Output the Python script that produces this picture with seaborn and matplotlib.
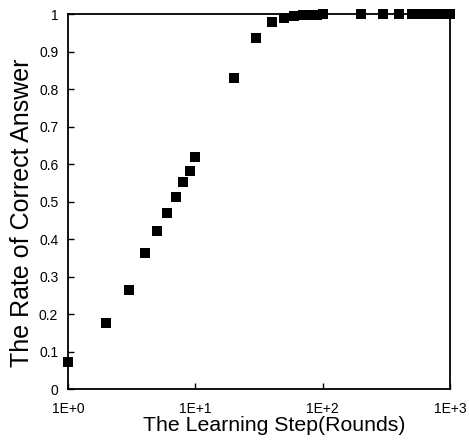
import matplotlib
matplotlib.use("Agg")
import matplotlib.pyplot as plt
import seaborn as sns
import pandas as pd

steps = [1, 2, 3, 4, 5, 6, 7, 8, 9, 10, 20, 30, 40, 50, 60, 70, 80, 90, 100,
         200, 300, 400, 500, 600, 700, 800, 900, 1000]
rate = [0.072, 0.177, 0.265, 0.362, 0.423, 0.469, 0.513, 0.552, 0.583, 0.618,
        0.831, 0.937, 0.980, 0.991, 0.995, 0.997, 0.998, 0.999, 1.0,
        1.0, 1.0, 1.0, 1.0, 1.0, 1.0, 1.0, 1.0, 1.0]
x_ticks = [1, 10, 100, 1000]
x_tick_labels = ["1E+0", "1E+1", "1E+2", "1E+3"]
y_ticks = [0, 0.1, 0.2, 0.3, 0.4, 0.5, 0.6, 0.7, 0.8, 0.9, 1]
y_tick_labels = ["0", "0.1", "0.2", "0.3", "0.4", "0.5", "0.6", "0.7", "0.8", "0.9", "1"]

sns.set_style("ticks")
plt.rcParams['font.family'] = ['Liberation Sans', 'DejaVu Sans']
plt.rcParams['text.color'] = 'black'
plt.rcParams['axes.labelcolor'] = 'black'

df = pd.DataFrame({"step": steps, "rate": rate})

fig = plt.figure(figsize=(4.69, 4.45), dpi=100)
ax = fig.add_axes([0.145, 0.1254, 0.8145, 0.8426])
sns.scatterplot(data=df, x="step", y="rate", marker="s", color="black",
                s=42, edgecolor="black", linewidth=0, ax=ax, clip_on=False, zorder=3)
ax.set_xscale("log")
ax.set_xlim(1, 1000)
ax.set_ylim(0, 1)
ax.set_xticks(x_ticks)
ax.set_xticklabels(x_tick_labels)
ax.xaxis.set_minor_locator(matplotlib.ticker.NullLocator())
ax.set_yticks(y_ticks)
ax.set_yticklabels(y_tick_labels)
ax.tick_params(direction="in", length=4, width=1, labelsize=10, colors="black")
ax.tick_params(axis="x", pad=9)
ax.tick_params(axis="y", pad=7)
for sp in ax.spines.values():
    sp.set_visible(True)
    sp.set_linewidth(1.3)
    sp.set_color("black")
ax.set_xlabel("The Learning Step(Rounds)", fontsize=15.3, color="black")
ax.set_ylabel("The Rate of Correct Answer", fontsize=18, color="black")
ax.xaxis.set_label_coords(0.54, -0.072)
ax.yaxis.set_label_coords(-0.088, 0.47)
fig.savefig("out.png", dpi=100)
